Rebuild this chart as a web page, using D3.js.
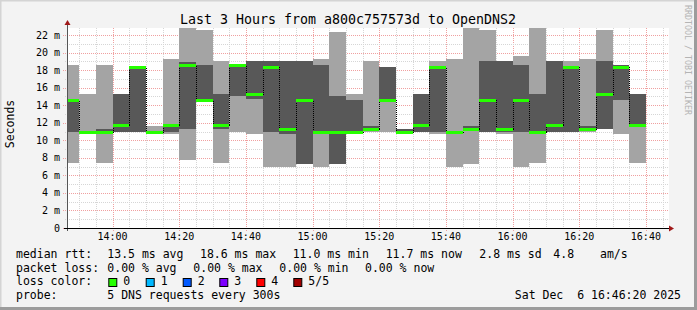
<!DOCTYPE html>
<html><head><meta charset="utf-8">
<script src="https://cdn.jsdelivr.net/npm/d3@7"></script>
<style>
body{margin:0;background:#f3f3f3}
svg{display:block}
text{font-family:"DejaVu Sans Mono",monospace;fill:#000}
</style>
</head><body>
<svg id="c" width="697" height="310"></svg>
<script>
// ---- data ----
const binStarts = ["13:45","13:50","13:55","14:00","14:05","14:10","14:15","14:20","14:25","14:30",
  "14:35","14:40","14:45","14:50","14:55","15:00","15:05","15:10","15:15","15:20",
  "15:25","15:30","15:35","15:40","15:45","15:50","15:55","16:00","16:05","16:10",
  "16:15","16:20","16:25","16:30","16:35"];
// five sorted pings per step (ms)
const ping1 = [7.4,10.7,7.4,11.0,11.0,11.0,10.7,7.7,14.5,7.4,11.0,10.7,7.0,7.0,7.3,7.0,7.3,11.0,11.0,11.0,11.0,11.0,10.7,7.0,7.3,11.0,10.7,7.0,7.4,11.0,11.0,11.0,11.3,10.7,7.4];
const ping2 = [11.0,11.0,11.0,11.0,11.0,11.0,11.0,11.3,14.5,11.3,15.0,14.7,11.0,10.7,7.3,11.0,7.3,11.0,11.3,14.6,11.0,11.0,11.0,11.0,11.3,11.0,11.0,11.0,11.0,11.0,11.0,11.3,11.3,14.6,11.7];
const median = [14.6,11.0,11.0,11.7,18.3,11.0,11.7,18.6,14.6,11.7,18.6,15.3,18.3,11.3,14.6,11.0,11.0,11.0,11.3,14.6,11.0,11.7,18.3,11.0,11.3,14.6,11.3,14.6,11.0,11.7,18.3,11.3,15.3,18.4,11.7];
const ping4 = [14.6,11.0,11.3,15.3,18.3,11.0,11.7,18.9,18.6,15.3,18.7,19.0,19.0,19.0,19.0,18.6,15.0,14.6,11.6,18.3,11.3,15.3,18.3,11.0,11.6,19.0,19.0,18.6,15.3,19.0,18.3,11.6,19.0,18.6,15.3];
const ping5 = [18.6,15.3,18.6,15.3,18.3,11.6,19.3,22.8,22.6,19.0,18.7,19.0,19.0,19.0,19.0,19.3,22.3,15.3,19.0,18.3,11.3,15.3,19.0,19.3,22.8,22.6,19.0,19.6,22.8,19.0,19.0,19.3,22.6,18.6,15.3];
const yTickValues = [0,2,4,6,8,10,12,14,16,18,20,22];
const yTickLabels = ["0","2 m","4 m","6 m","8 m","10 m","12 m","14 m","16 m","18 m","20 m","22 m"];
const xTickLabels = ["14:00","14:20","14:40","15:00","15:20","15:40","16:00","16:20","16:40"];
const lossNames = ["0","1","2","3","4","5/5"];
const lossColors = ["#26ff00","#00b8ff","#0059ff","#7e00ff","#ff0000","#a10000"];
const title = "Last 3 Hours from a800c757573d to OpenDNS2";

// ---- layout ----
const svg = d3.select("#c");
const day = "2025-12-06T";
const tStart = new Date(day+"13:46:20"), tEnd = new Date(day+"16:46:20");
const L=67, R=667, T=28, B=228;
const x = d3.scaleTime().domain([tStart,tEnd]).range([L,R]);
const y = d3.scaleLinear().domain([0,22.8]).range([B,T]);

// background + frame
svg.append("rect").attr("width",697).attr("height",310).attr("fill","#f3f3f3");
svg.append("path").attr("d","M0.5,309.5V0.5H696.5").attr("fill","none").attr("stroke","#d4d4d4").attr("stroke-width",2);
svg.append("path").attr("d","M0,308.5H695.5V0").attr("fill","none").attr("stroke","#9c9c9c").attr("stroke-width",3);
svg.append("rect").attr("x",L).attr("y",T).attr("width",R-L+2).attr("height",B-T).attr("fill","#fff");

// grid
const g = svg.append("g").attr("shape-rendering","crispEdges");
const minorX = d3.timeMinute.every(5).range(tStart,tEnd);
minorX.forEach(t=>{
  const major = t.getMinutes()%20===0;
  g.append("line").attr("x1",Math.round(x(t))+0.5).attr("x2",Math.round(x(t))+0.5)
   .attr("y1",T).attr("y2",B+ (major?3:1))
   .attr("stroke",major?"#f0a0a0":"#d6d6d6").attr("stroke-dasharray","1,1");
});
d3.range(0,23).forEach(v=>{
  const major = v%2===0;
  const yy = Math.round(y(v))+0.5;
  g.append("line").attr("x1",L- (major?4:2)).attr("x2",R+2).attr("y1",yy).attr("y2",yy)
   .attr("stroke",major?"#f0a0a0":"#d6d6d6").attr("stroke-dasharray","1,1");
});

// smoke
const bins = binStarts.map((s,i)=>{
  const t0 = new Date(day+s+":00");
  const t1 = new Date(+t0+300000);
  return {x0:Math.max(L,Math.round(x(t0))), x1:Math.round(x(t1)), p1:ping1[i],p2:ping2[i],p3:median[i],p4:ping4[i],p5:ping5[i]};
});
const sm = svg.append("g").attr("shape-rendering","crispEdges");
bins.forEach(b=>{
  sm.append("rect").attr("x",b.x0).attr("width",b.x1-b.x0)
    .attr("y",Math.round(y(b.p5))).attr("height",Math.max(0,Math.round(y(b.p1))-Math.round(y(b.p5))))
    .attr("fill","#a4a4a4");
  sm.append("rect").attr("x",b.x0).attr("width",b.x1-b.x0)
    .attr("y",Math.round(y(b.p4))).attr("height",Math.max(0,Math.round(y(b.p2))-Math.round(y(b.p4))))
    .attr("fill","#585858");
});
// median step line (dotted) + loss-coloured median
const stepPts = [];
bins.forEach(b=>{stepPts.push([b.x0,b.p3]);stepPts.push([b.x1,b.p3]);});
svg.append("path").datum(stepPts)
  .attr("d",d3.line().x(d=>d[0]+0.5).y(d=>Math.round(y(d[1]))+0.5))
  .attr("fill","none").attr("stroke","#000").attr("stroke-width",1).attr("stroke-dasharray","1,1")
  .attr("shape-rendering","crispEdges");
bins.forEach(b=>{
  svg.append("rect").attr("x",b.x0).attr("width",b.x1-b.x0)
    .attr("y",Math.round(y(b.p3))-1).attr("height",3).attr("fill",lossColors[0]);
});

// axes
svg.append("line").attr("x1",L+0.5).attr("x2",L+0.5).attr("y1",B+3).attr("y2",T-4).attr("stroke","#555").attr("shape-rendering","crispEdges");
svg.append("line").attr("x1",L-3).attr("x2",R+3).attr("y1",B+0.5).attr("y2",B+0.5).attr("stroke","#000").attr("shape-rendering","crispEdges");
svg.append("path").attr("d",`M${L+0.5},${T-8}L${L+3.5},${T-3}L${L-2.5},${T-3}Z`).attr("fill","#a01818");
svg.append("path").attr("d",`M${R+7},${B+0.5}L${R+2},${B-2.5}L${R+2},${B+3.5}Z`).attr("fill","#a01818");

// y tick labels
yTickValues.forEach((v,i)=>{
  svg.append("text").attr("x",60).attr("y",y(v)+3.5).attr("text-anchor","end")
    .attr("font-size","10px").text(yTickLabels[i]);
});
// x tick labels
const majorX = d3.timeMinute.every(20).range(tStart,tEnd);
majorX.forEach((t,i)=>{
  svg.append("text").attr("x",x(t)).attr("y",240).attr("text-anchor","middle")
    .attr("font-size","10px").text(xTickLabels[i]);
});

// title, axis label, watermark
svg.append("text").attr("x",348).attr("y",23.5).attr("text-anchor","middle").attr("font-size","13.3px").text(title);
svg.append("text").attr("transform","translate(14,124) rotate(-90)").attr("text-anchor","middle").attr("font-size","11.5px").text("Seconds");
svg.append("text").attr("transform","translate(684.5,5) rotate(90)").attr("font-size","8.3px").style("fill","#b4b4b4").text("RRDTOOL / TOBI OETIKER");

// legend
const lf = "11.5px";
function lt(xp,yp,s){svg.append("text").attr("x",xp).attr("y",yp).attr("font-size",lf).attr("xml:space","preserve").text(s);}
lt(16,258,"median rtt:");
lt(107.3,258,"13.5 ms avg");
lt(200,258,"18.6 ms max");
lt(292.7,258,"11.0 ms min");
lt(385.7,258,"11.7 ms now");
lt(479.3,258,"2.8 ms sd");
lt(553.3,258,"4.8");
lt(600,258,"am/s");
lt(16,271.7,"packet loss:");
lt(107.3,271.7,"0.00 % avg");
lt(193.3,271.7,"0.00 % max");
lt(279.3,271.7,"0.00 % min");
lt(365,271.7,"0.00 % now");
lt(16,285.3,"loss color:");
const boxX = [108.3,145.7,182.7,219.3,256.3,293.3];
lossNames.forEach((n,i)=>{
  svg.append("rect").attr("x",boxX[i]+0.5).attr("y",278.5).attr("width",8).attr("height",8)
    .attr("fill",lossColors[i]).attr("stroke","#000").attr("stroke-width",1);
  lt(boxX[i]+15,285.3,n);
});
lt(16,299,"probe:");
lt(107.3,299,"5 DNS requests every 300s");
svg.append("text").attr("x",681).attr("y",299).attr("text-anchor","end").attr("font-size",lf).attr("xml:space","preserve").text("Sat Dec  6 16:46:20 2025");
</script>
</body></html>
